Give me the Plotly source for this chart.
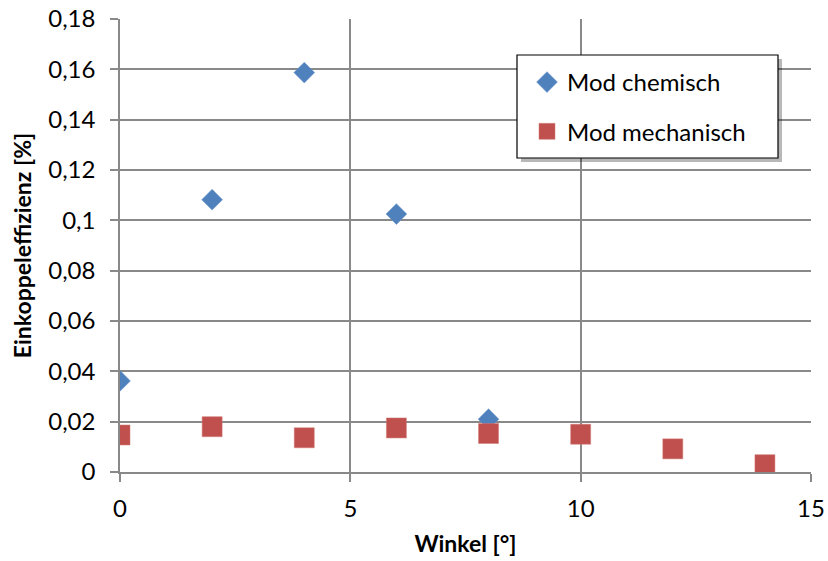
import plotly.graph_objects as go

# Data
winkel_chem = [0, 2, 4, 6, 8]
eff_chem = [0.0362, 0.1082, 0.1587, 0.1025, 0.0210]
winkel_mech = [0, 2, 4, 6, 8, 10, 12, 14]
eff_mech = [0.0147, 0.0180, 0.0136, 0.0175, 0.0153, 0.0150, 0.0092, 0.0029]
series_names = ["Mod chemisch", "Mod mechanisch"]
y_tickvals = [0, 0.02, 0.04, 0.06, 0.08, 0.1, 0.12, 0.14, 0.16, 0.18]
y_ticktext = ["0", "0,02", "0,04", "0,06", "0,08", "0,1", "0,12", "0,14", "0,16", "0,18"]
x_tickvals = [0, 5, 10, 15]

W, H = 828, 561
L, R, T, B = 120, 17, 19, 89
pw, ph = W - L - R, H - T - B

def px2paper(x, y):
    return (x - L) / pw, (H - B - y) / ph

FONT = "Lato, Open Sans, sans-serif"
grid = "#898989"

fig = go.Figure()
fig.add_trace(go.Scatter(x=winkel_chem, y=eff_chem, mode="markers", name=series_names[0],
                         legendgroup="a",
                         marker=dict(symbol="diamond", size=16, color="#4F81BD",
                                     line=dict(width=0.5, color="#6A95C8"))))
fig.add_trace(go.Scatter(x=winkel_mech, y=eff_mech, mode="markers", name=series_names[1],
                         legendgroup="b",
                         marker=dict(symbol="square", size=20, color="#C0504D",
                                     line=dict(width=0.5, color="#D07A77"))))

# legend box with shadow
bx0, by0, bx1, by1 = 517, 55, 778, 158
sx0, sy0 = px2paper(bx0 + 4, by1 + 4)
sx1, sy1 = px2paper(bx1 + 4, by0 + 4)
fig.add_shape(type="rect", xref="paper", yref="paper", x0=sx0, y0=sy0, x1=sx1, y1=sy1,
              fillcolor="rgba(0,0,0,0.28)", line=dict(width=0), layer="above")
x0, y0 = px2paper(bx0, by1)
x1, y1 = px2paper(bx1, by0)
fig.add_shape(type="rect", xref="paper", yref="paper", x0=x0, y0=y0, x1=x1, y1=y1,
              fillcolor="white", line=dict(width=1.2, color="black"), layer="above")

lx, ly = px2paper(527, 60)

fig.update_layout(
    width=W, height=H,
    margin=dict(l=L, r=R, t=T, b=B, pad=0),
    paper_bgcolor="white", plot_bgcolor="white",
    font=dict(family=FONT, size=24, color="black"),
    showlegend=True,
    legend=dict(x=lx, y=ly, xanchor="left", yanchor="top", bgcolor="rgba(0,0,0,0)",
                borderwidth=0, font=dict(size=24), traceorder="grouped",
                tracegroupgap=15, itemsizing="trace"),
    xaxis=dict(range=[0, 15], tickvals=x_tickvals, showgrid=True, gridcolor=grid, gridwidth=1.5,
               zeroline=False, showline=True, linecolor=grid, linewidth=1.5,
               ticks="outside", ticklen=8, tickcolor=grid, tickwidth=1.5,
               ticklabelstandoff=6, automargin=False,
               title=dict(text="<b>Winkel [°]</b>", font=dict(size=23), standoff=15)),
    yaxis=dict(range=[0, 0.18], tickvals=y_tickvals, ticktext=y_ticktext,
               showgrid=True, gridcolor=grid, gridwidth=1.5,
               zeroline=False, showline=True, linecolor=grid, linewidth=1.5,
               ticks="outside", ticklen=8, tickcolor=grid, tickwidth=1.5,
               ticklabelstandoff=10, automargin=False,
               title=dict(text="<b>Einkoppeleffizienz [%]</b>", font=dict(size=23), standoff=10)),
)

fig.write_html("out.html")
